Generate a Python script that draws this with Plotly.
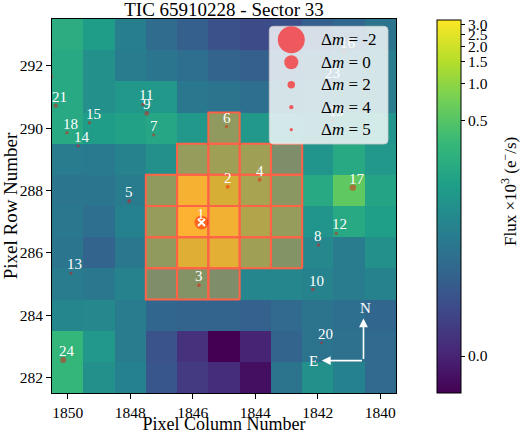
import numpy as np
import plotly.graph_objects as go

TITLE = "TIC 65910228 - Sector 33"
X_TITLE = "Pixel Column Number"
Y_TITLE = "Pixel Row Number"
CB_TITLE = "Flux ×10<sup>3</sup> (e<sup>−</sup>/s)"

columns = list(range(1840, 1851))
rows = list(range(282, 294))

# Median flux (x10^3 e-/s), each list runs over columns 1840 ... 1850
flux_282 = [0.0276, 0.0615, 0.0964, 0.0384, -0.0022, 0.0015, 0.0041, 0.0146, 0.0615, 0.0964, 0.3042]
flux_283 = [0.0276, 0.0355, 0.0384, 0.0232, 0.0000, -0.0032, 0.0021, 0.0132, 0.0528, 0.1201, 0.3042]
flux_284 = [0.0253, 0.0327, 0.0384, 0.0276, 0.0212, 0.0232, 0.0232, 0.0253, 0.0528, 0.0772, 0.0716]
flux_285 = [0.0664, 0.0528, 0.0664, 0.0716, 0.0716, 0.1988, 0.2834, 0.1988, 0.0664, 0.0451, 0.0528]
flux_286 = [0.0964, 0.0528, 0.0772, 0.2834, 0.5720, 2.0000, 1.8650, 0.4031, 0.0451, 0.0232, 0.0417]
flux_287 = [0.1494, 0.1988, 0.1117, 0.4637, 0.8108, 2.6380, 3.2500, 0.4637, 0.0615, 0.0327, 0.0451]
flux_288 = [0.1725, 0.5720, 0.1988, 0.3503, 0.7053, 1.6240, 2.8280, 0.4031, 0.0528, 0.0417, 0.0417]
flux_289 = [0.1201, 0.1988, 0.1117, 0.1988, 0.5720, 0.5720, 0.4637, 0.0964, 0.0664, 0.0488, 0.0528]
flux_290 = [0.1117, 0.0964, 0.0664, 0.0832, 0.1201, 0.4031, 0.1201, 0.1852, 0.1605, 0.1390, 0.1988]
flux_291 = [0.0528, 0.0528, 0.0451, 0.0384, 0.0327, 0.0384, 0.0451, 0.1201, 0.1201, 0.0964, 0.1988]
flux_292 = [0.0528, 0.0451, 0.0327, 0.0253, 0.0194, 0.0232, 0.0327, 0.0417, 0.0528, 0.0964, 0.1988]
flux_293 = [0.0384, 0.0253, 0.0194, 0.0118, 0.0095, 0.0118, 0.0194, 0.0301, 0.0570, 0.1390, 0.2291]

# Aperture mask, same layout
ap_282 = [0, 0, 0, 0, 0, 0, 0, 0, 0, 0, 0]
ap_283 = [0, 0, 0, 0, 0, 0, 0, 0, 0, 0, 0]
ap_284 = [0, 0, 0, 0, 0, 0, 0, 0, 0, 0, 0]
ap_285 = [0, 0, 0, 0, 0, 1, 1, 1, 0, 0, 0]
ap_286 = [0, 0, 0, 1, 1, 1, 1, 1, 0, 0, 0]
ap_287 = [0, 0, 0, 1, 1, 1, 1, 1, 0, 0, 0]
ap_288 = [0, 0, 0, 1, 1, 1, 1, 1, 0, 0, 0]
ap_289 = [0, 0, 0, 1, 1, 1, 1, 0, 0, 0, 0]
ap_290 = [0, 0, 0, 0, 0, 1, 0, 0, 0, 0, 0]
ap_291 = [0, 0, 0, 0, 0, 0, 0, 0, 0, 0, 0]
ap_292 = [0, 0, 0, 0, 0, 0, 0, 0, 0, 0, 0]
ap_293 = [0, 0, 0, 0, 0, 0, 0, 0, 0, 0, 0]

# Gaia sources: id, column, row, magnitude difference to target
star_id = [1, 2, 3, 4, 5, 6, 7, 8, 9, 10, 11, 12, 13, 14, 15, 16, 17, 18, 19, 20, 21, 22, 23, 24]
star_col = [1845.72, 1844.88, 1845.80, 1843.86, 1848.03, 1844.92, 1847.25, 1841.98, 1847.47, 1842.16,
            1847.59, 1841.41, 1849.89, 1849.66, 1849.30, 1841.16, 1840.88, 1850.02, 1841.52, 1841.88,
            1850.38, 1850.52, 1841.63, 1850.14]
star_row = [286.97, 288.12, 284.96, 288.34, 287.66, 290.05, 289.78, 286.25, 290.47, 284.82,
            290.76, 286.62, 285.34, 289.43, 290.17, 292.45, 288.09, 289.85, 290.26, 283.11,
            290.72, 291.65, 291.49, 282.56]
star_dmag = [0.0, 4.2, 4.5, 4.2, 4.2, 5.2, 5.2, 4.8, 3.6, 4.8,
             4.8, 4.8, 5.5, 5.2, 4.8, 4.8, 2.5, 4.8, 5.2, 6.0,
             4.0, 4.8, 4.8, 2.8]

legend_dmag = [-2, 0, 2, 4, 5]
cb_tick_values = [0.0, 0.5, 1.0, 1.5, 2.0, 2.5, 3.0]

# ---------------------------------------------------------------------------
FONT = "Liberation Serif"
BASE_D = 13.0       # marker diameter (px) for dm = 0 (plus 1 px edge)
STAR_RGBA = "rgba(255,0,0,0.6)"
TOMATO = "#ff6347"

flux = np.array([flux_282, flux_283, flux_284, flux_285, flux_286, flux_287,
                 flux_288, flux_289, flux_290, flux_291, flux_292, flux_293])
aperture = [ap_282, ap_283, ap_284, ap_285, ap_286, ap_287,
            ap_288, ap_289, ap_290, ap_291, ap_292, ap_293]
vmin, vmax = float(flux.min()), float(flux.max())


def log_stretch(v, a=1000.0):
    t = np.clip((np.asarray(v, dtype=float) - vmin) / (vmax - vmin), 0, 1)
    return np.log10(a * t + 1.0) / np.log10(a + 1.0)


def diam(dm):
    return BASE_D * 2.0 ** (-np.asarray(dm, dtype=float) / 2.0) + 1.0


xr = [columns[-1] + 0.5, columns[0] - 0.5]
yr = [rows[0] - 0.5, rows[-1] + 0.5]

L, R, T, B = 52, 124, 19, 41
W, H = 520 - L - R, 434 - T - B
def pxx(v): return (v - L) / W
def pyy(v): return (434 - B - v) / H

fig = go.Figure()
fig.add_trace(go.Heatmap(
    x=columns, y=rows, z=log_stretch(flux), zmin=0, zmax=1,
    colorscale="Viridis", hoverinfo="skip",
    colorbar=dict(
        x=pxx(437), xanchor="left", xpad=0,
        y=pyy(206.5), yanchor="middle", ypad=0,
        len=373, lenmode="pixels",
        thickness=24, thicknessmode="pixels",
        outlinewidth=1, outlinecolor="black",
        tickmode="array", tickvals=list(log_stretch(cb_tick_values)),
        ticktext=[f"{v:.1f}" for v in cb_tick_values],
        ticks="outside", ticklen=4, tickcolor="black",
        tickfont=dict(family=FONT, size=15.5, color="black"),
    ),
))

# aperture
px, py = [], []
for r, mrow in zip(rows, aperture):
    for c, m in zip(columns, mrow):
        if m:
            px += [c - 0.5, c + 0.5, c + 0.5, c - 0.5, c - 0.5, None]
            py += [r - 0.5, r - 0.5, r + 0.5, r + 0.5, r - 0.5, None]
fig.add_trace(go.Scatter(x=px, y=py, mode="lines", fill="toself",
                         fillcolor="rgba(255,99,71,0.4)", line=dict(width=0),
                         hoverinfo="skip", showlegend=False))
fig.add_trace(go.Scatter(x=px, y=py, mode="lines", line=dict(color=TOMATO, width=2),
                         hoverinfo="skip", showlegend=False))

# stars
fig.add_trace(go.Scatter(x=star_col, y=star_row, mode="markers",
                         marker=dict(size=list(diam(star_dmag)), color=STAR_RGBA, line=dict(width=0)),
                         hoverinfo="skip", showlegend=False))
# target cross
fig.add_trace(go.Scatter(x=[star_col[0]], y=[star_row[0]], mode="markers",
                         marker=dict(symbol="x-thin", size=7, line=dict(color="white", width=2)),
                         hoverinfo="skip", showlegend=False))

annotations = []
for sid, c, r in zip(star_id, star_col, star_row):
    if xr[1] <= c <= xr[0] and yr[0] <= r <= yr[1]:
        annotations.append(dict(x=c, y=r, xref="x", yref="y", text=str(sid), showarrow=False,
                                xanchor="left", yanchor="bottom", xshift=-6, yshift=-1,
                                font=dict(family=FONT, size=15, color="white")))

# compass
COMPASS_ORIGIN = (1840.54, 282.54)
COMPASS_LEN_N = 1.35
COMPASS_LEN_E = 1.33
ox, oy = COMPASS_ORIGIN
for hx, hy in [(ox, oy + COMPASS_LEN_N), (ox + COMPASS_LEN_E, oy)]:
    annotations.append(dict(x=hx, y=hy, ax=ox, ay=oy, xref="x", yref="y", axref="x", ayref="y",
                            text="", showarrow=True, arrowhead=2, arrowsize=1.1, arrowwidth=1.6,
                            arrowcolor="white"))
annotations.append(dict(x=ox - 0.05, y=oy + 1.68, xref="x", yref="y", text="N", showarrow=False,
                        font=dict(family=FONT, size=15, color="white")))
annotations.append(dict(x=ox + 1.59, y=oy, xref="x", yref="y", text="E", showarrow=False,
                        font=dict(family=FONT, size=15, color="white")))

# colorbar label
annotations.append(dict(x=pxx(509), y=pyy(192), xref="paper", yref="paper", text=CB_TITLE,
                        textangle=-90, showarrow=False, xanchor="center", yanchor="middle",
                        font=dict(family=FONT, size=17, color="black")))

# legend (drawn by hand)
bx0, bx1, by1, by0 = pxx(269.3), pxx(388), pyy(26.3), pyy(144)
rx, ry = 4 / W, 4 / H
path = (f"M {bx0+rx},{by1} L {bx1-rx},{by1} Q {bx1},{by1} {bx1},{by1-ry} "
        f"L {bx1},{by0+ry} Q {bx1},{by0} {bx1-rx},{by0} L {bx0+rx},{by0} "
        f"Q {bx0},{by0} {bx0},{by0+ry} L {bx0},{by1-ry} Q {bx0},{by1} {bx0+rx},{by1} Z")
shapes = [dict(type="path", path=path, xref="paper", yref="paper", layer="above",
               fillcolor="rgba(255,255,255,0.8)", line=dict(color="rgba(204,204,204,0.8)", width=1))]
for i, dm in enumerate(legend_dmag):
    cy = pyy(39.7 + 22.5 * i)
    rr = float(diam(dm)) / 2
    shapes.append(dict(type="circle", xref="paper", yref="paper", layer="above",
                       xsizemode="pixel", ysizemode="pixel", xanchor=pxx(291.3), yanchor=cy,
                       x0=-rr, x1=rr, y0=-rr, y1=rr, fillcolor=STAR_RGBA, line=dict(width=0)))
    annotations.append(dict(x=pxx(319), y=cy, xref="paper", yref="paper", showarrow=False,
                            xanchor="left", yanchor="middle", text=f"Δ<i>m</i> = {dm}",
                            font=dict(family=FONT, size=17, color="black")))

axis_common = dict(showgrid=False, zeroline=False, showline=True, mirror=True, automargin=False,
                   linecolor="black", linewidth=1, ticks="outside", ticklen=5,
                   tickcolor="black", tickfont=dict(family=FONT, size=15.5, color="black"))
fig.update_layout(
    width=520, height=434,
    margin=dict(l=L, r=R, t=T, b=B),
    paper_bgcolor="white", plot_bgcolor="white",
    title=dict(text=TITLE, x=0.5, xref="paper", xanchor="center",
               y=1 - 9 / 434, yref="container", yanchor="middle",
               font=dict(family=FONT, size=19, color="black")),
    xaxis=dict(range=xr, tickmode="array", tickvals=columns[::2], ticklabelstandoff=0,
               title=dict(text=X_TITLE, font=dict(family=FONT, size=18, color="black"), standoff=10),
               **axis_common),
    yaxis=dict(range=yr, tickmode="array", tickvals=rows[::2],
               title=dict(text=Y_TITLE, font=dict(family=FONT, size=19, color="black"), standoff=6),
               **axis_common),
    shapes=shapes, annotations=annotations, showlegend=False,
)
fig.write_html("out.html")
